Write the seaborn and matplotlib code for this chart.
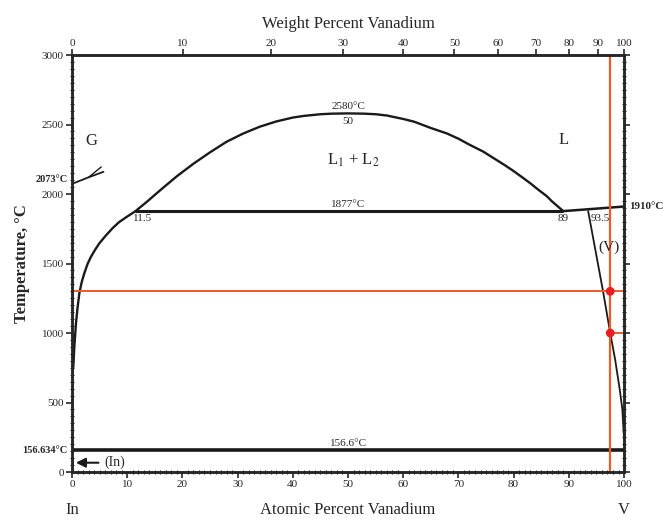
import numpy as np
import pandas as pd
import matplotlib
matplotlib.use("Agg")
import matplotlib.pyplot as plt
import seaborn as sns
from matplotlib.ticker import MultipleLocator

# at.% V vs temperature (C)
gap_x = [0, 0.24, 0.42, 0.72, 1.0, 1.33, 1.75, 2.23, 2.8, 3.44, 4.2, 4.95, 6.1, 7.37, 8.5, 9.78, 11.5,
         13.5, 16, 19, 22, 25, 28, 31, 34, 37, 40, 42, 45, 47, 50, 53, 55, 57, 60, 62, 65, 67.9, 70, 72,
         74.5, 76.9, 78.5, 80, 81.5, 83, 84.5, 86, 87, 89]
gap_t = [700, 760, 900, 1070, 1180, 1286, 1365, 1430, 1495, 1549, 1600, 1645, 1700, 1755, 1797, 1832, 1877,
         1942, 2028, 2128, 2218, 2300, 2376, 2435, 2484, 2522, 2550, 2562, 2574, 2578, 2580, 2578, 2574,
         2565, 2540, 2520, 2475, 2436, 2398, 2355, 2305, 2245, 2205, 2165, 2122, 2078, 2030, 1985, 1945, 1877]

liq_x = [89, 100]
liq_t = [1877, 1910]

v_x = [93.5, 96.2, 97.5, 98.4, 99.2, 99.7, 100, 100]
v_t = [1877, 1300, 1000, 806, 600, 450, 320, 156.6]

in_side_x = [0, 0]
in_side_t = [700, 156.6]

mono_t = 1877
eut_t = 156.6

red_x = 97.5
red_t = [1300, 1000]

wt_ticks = [0, 10, 20, 30, 40, 50, 60, 70, 80, 90, 100]
at_ticks = [0, 10, 20, 30, 40, 50, 60, 70, 80, 90, 100]
t_ticks = [0, 500, 1000, 1500, 2000, 2500, 3000]

M_IN, M_V = 114.818, 50.9415


def wt_to_at(w):
    w = np.asarray(w, dtype=float)
    nv = w / M_V
    ni = (100 - w) / M_IN
    return 100 * nv / (nv + ni)


sns.set_style("ticks")
plt.rcParams['font.family'] = ['Liberation Serif', 'DejaVu Serif']
plt.rcParams['mathtext.fontset'] = 'stix'

fig = plt.figure(figsize=(6.71, 5.21), dpi=100)
ax = fig.add_axes([0.1073, 0.094, 0.8227, 0.8004])

black = "#1a1a1a"
red = "#f05a2a"

# phase boundaries
sns.lineplot(x=gap_x, y=gap_t, sort=False, color=black, lw=1.7, ax=ax)
sns.lineplot(x=liq_x, y=liq_t, sort=False, color=black, lw=1.8, ax=ax)
sns.lineplot(x=v_x, y=v_t, sort=False, color=black, lw=1.3, ax=ax)
sns.lineplot(x=in_side_x, y=in_side_t, sort=False, color=black, lw=1.8, ax=ax)
ax.hlines(mono_t, 11.5, 89, color=black, lw=2.2)
ax.hlines(eut_t, 0, 100, color=black, lw=2.6)

# gas boundary near 2073 C
ax.plot([0, 3, 5.7], [2073, 2120, 2160], color=black, lw=1.3)
ax.plot([3, 5.3], [2120, 2195], color=black, lw=1.0)

# red guide lines and points
ax.axvline(red_x, color=red, lw=1.6)
ax.hlines(red_t[0], 0, 100, color=red, lw=1.4)
ax.hlines(red_t[1], red_x, 100, color=red, lw=1.4)
sns.scatterplot(x=[red_x, red_x], y=red_t, color="#ee1c1c", s=40, edgecolor="none", ax=ax, zorder=5)

# region and point labels
ax.text(50, 2600, "2580°C", ha="center", va="bottom", fontsize=8)
ax.text(50, 2555, "50", ha="center", va="top", fontsize=8)
ax.text(51, 2245, "L$_1$ + L$_2$", ha="center", va="center", fontsize=12)
ax.text(89, 2390, "L", ha="center", va="center", fontsize=12)
ax.text(3.5, 2380, "G", ha="center", va="center", fontsize=12)
ax.text(50, 1895, "1877°C", ha="center", va="bottom", fontsize=8)
ax.text(12.8, 1855, "11.5", ha="center", va="top", fontsize=8)
ax.text(89, 1855, "89", ha="center", va="top", fontsize=8)
ax.text(95.7, 1855, "93.5", ha="center", va="top", fontsize=8)
ax.text(97.3, 1620, "(V)", ha="center", va="center", fontsize=11)
ax.text(50, 175, "156.6°C", ha="center", va="bottom", fontsize=8)
ax.annotate("", xy=(0.2, 67), xytext=(5.3, 67),
            arrowprops=dict(arrowstyle="-|>", color=black, lw=1.5, mutation_scale=14))
ax.text(5.8, 67, "(In)", ha="left", va="center", fontsize=10)

ax.text(-0.8, 2073, "2073°C", ha="right", va="bottom", fontsize=7.5, fontweight="bold")
ax.text(-0.8, 156.6, "156.634°C", ha="right", va="center", fontsize=7.5, fontweight="bold")
ax.text(101, 1910, "1910°C", ha="left", va="center", fontsize=8, fontweight="bold")
ax.text(0, -275, "In", ha="center", va="center", fontsize=12)
ax.text(100, -275, "V", ha="center", va="center", fontsize=12)

# axes
ax.set_xlim(0, 100)
ax.set_ylim(0, 3000)
ax.set_xticks(at_ticks)
ax.set_yticks(t_ticks)
ax.xaxis.set_minor_locator(MultipleLocator(1))
ax.yaxis.set_minor_locator(MultipleLocator(50))
ax.tick_params(which="major", direction="out", length=4, width=1.2, labelsize=8, pad=2)
ax.tick_params(which="minor", direction="inout", length=3.5, width=0.8)
ax.tick_params(axis="y", which="both", right=True)
ax.tick_params(axis="x", which="minor", top=True)
for s in ax.spines.values():
    s.set_linewidth(1.8)
    s.set_color(black)
ax.set_xlabel("Atomic Percent Vanadium", fontsize=12, labelpad=9)
ax.set_ylabel("Temperature, °C", fontsize=12, fontweight="bold", labelpad=8)

top = ax.twiny()
top.set_xlim(0, 100)
top.set_xticks(wt_to_at(wt_ticks))
top.set_xticklabels([str(w) for w in wt_ticks])
top.tick_params(direction="out", length=4, width=1.2, labelsize=8, pad=1)
top.set_xlabel("Weight Percent Vanadium", fontsize=12, labelpad=8)
for s in top.spines.values():
    s.set_linewidth(1.8)

fig.savefig("out.png", dpi=100)
